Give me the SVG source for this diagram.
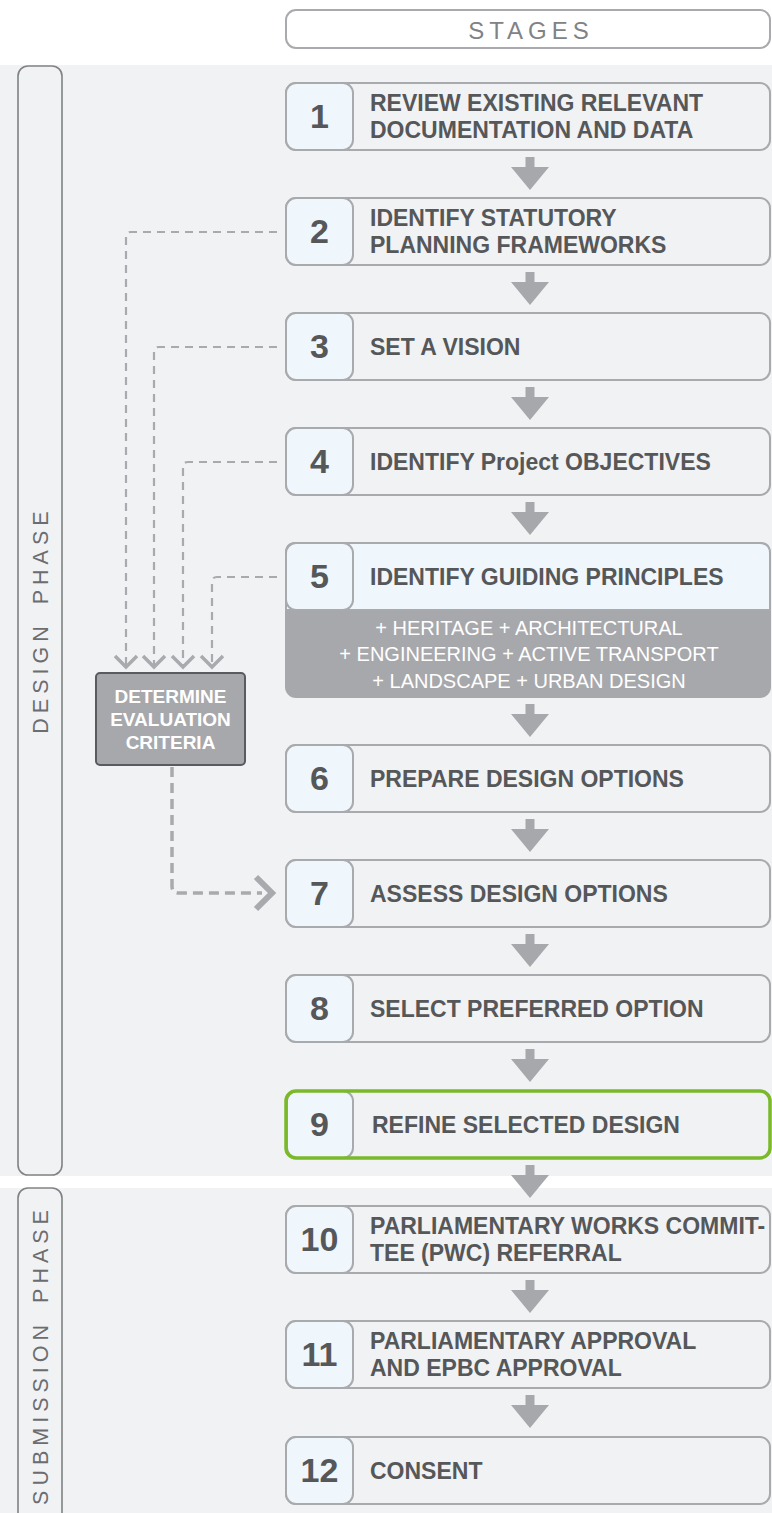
<svg xmlns="http://www.w3.org/2000/svg" width="772" height="1513" viewBox="0 0 772 1513">
  <style>
    .bg { fill: #f1f2f4; }
    .phase { fill: #f1f2f4; stroke: #808284; stroke-width: 1.6; }
    .phase-t { font-family: "Liberation Sans", Arial, sans-serif; font-size: 21.5px; letter-spacing: 5px; fill: #6b6d70; text-anchor: middle; }
    .box { fill: #f1f2f4; stroke: #a9aaad; stroke-width: 2; }
    .num { fill: #eff6fc; stroke: #a9aaad; stroke-width: 2; }
    .num-t { font-family: "Liberation Sans", Arial, sans-serif; font-weight: bold; font-size: 34px; fill: #555759; text-anchor: middle; }
    .lbl { font-family: "Liberation Sans", Arial, sans-serif; font-weight: bold; font-size: 23px; fill: #555759; }
    .flow { fill: #a7a8ac; }
    .dash { fill: none; stroke: #a9aaad; stroke-width: 2.2; stroke-dasharray: 8 6; }
    .chev { fill: none; stroke: #a9aaad; stroke-width: 3.5; }
    .sub { font-family: "Liberation Sans", Arial, sans-serif; font-size: 20px; fill: #ffffff; text-anchor: middle; }
    .crit { font-family: "Liberation Sans", Arial, sans-serif; font-weight: bold; font-size: 19px; fill: #ffffff; text-anchor: middle; }
  </style>

  <!-- phase backgrounds -->
  <rect class="bg" x="0" y="65" width="772" height="1111"/>
  <rect class="bg" x="0" y="1188" width="772" height="325"/>

  <!-- stages header -->
  <g id="stages-header">
    <rect x="286" y="10" width="484" height="38" rx="10" fill="#ffffff" stroke="#a9aaad" stroke-width="2"/>
    <text x="531" y="38.5" font-family="Liberation Sans, Arial, sans-serif" font-size="24" letter-spacing="5" fill="#808285" text-anchor="middle">STAGES</text>
  </g>

  <!-- phase labels -->
  <g id="design-phase">
    <rect class="phase" x="18" y="66" width="44" height="1109" rx="10"/>
    <text class="phase-t" transform="translate(48,620) rotate(-90)">DESIGN<tspan dx="6"> PHASE</tspan></text>
  </g>
  <g id="submission-phase">
    <rect class="phase" x="18" y="1188" width="44" height="340" rx="10"/>
    <text class="phase-t" transform="translate(48,1355) rotate(-90)">SUBMISSION<tspan dx="6"> PHASE</tspan></text>
  </g>

  <!-- stage nodes -->
  <g id="stage-1">
    <rect class="box" x="286" y="83" width="484" height="67" rx="10"/>
    <rect class="num" x="286" y="83" width="67" height="67" rx="10"/>
    <text class="num-t" x="319.5" y="128">1</text>
    <text class="lbl" x="370" y="111">REVIEW EXISTING RELEVANT</text>
    <text class="lbl" x="370" y="138">DOCUMENTATION AND DATA</text>
  </g>
  <g id="stage-2">
    <rect class="box" x="286" y="198" width="484" height="67" rx="10"/>
    <rect class="num" x="286" y="198" width="67" height="67" rx="10"/>
    <text class="num-t" x="319.5" y="243">2</text>
    <text class="lbl" x="370" y="226">IDENTIFY STATUTORY</text>
    <text class="lbl" x="370" y="253">PLANNING FRAMEWORKS</text>
  </g>
  <g id="stage-3">
    <rect class="box" x="286" y="313" width="484" height="67" rx="10"/>
    <rect class="num" x="286" y="313" width="67" height="67" rx="10"/>
    <text class="num-t" x="319.5" y="358">3</text>
    <text class="lbl" x="370" y="355">SET A VISION</text>
  </g>
  <g id="stage-4">
    <rect class="box" x="286" y="428" width="484" height="67" rx="10"/>
    <rect class="num" x="286" y="428" width="67" height="67" rx="10"/>
    <text class="num-t" x="319.5" y="473">4</text>
    <text class="lbl" x="370" y="470">IDENTIFY Project OBJECTIVES</text>
  </g>
  <g id="stage-5">
    <rect x="286" y="543" width="484" height="154" rx="10" fill="#a7a8ac" stroke="#a7a8ac" stroke-width="2"/>
    <path d="M286,610 V553 Q286,543 296,543 H760 Q770,543 770,553 V610 Z" fill="#eff6fc" stroke="#a9aaad" stroke-width="2"/>
    <rect class="num" x="286" y="543" width="67" height="67" rx="10"/>
    <text class="num-t" x="319.5" y="588">5</text>
    <text class="lbl" x="370" y="585">IDENTIFY GUIDING PRINCIPLES</text>
    <text class="sub" x="529" y="635">+ HERITAGE + ARCHITECTURAL</text>
    <text class="sub" x="529" y="661">+ ENGINEERING + ACTIVE TRANSPORT</text>
    <text class="sub" x="529" y="688">+ LANDSCAPE + URBAN DESIGN</text>
  </g>
  <g id="stage-6">
    <rect class="box" x="286" y="745" width="484" height="67" rx="10"/>
    <rect class="num" x="286" y="745" width="67" height="67" rx="10"/>
    <text class="num-t" x="319.5" y="790">6</text>
    <text class="lbl" x="370" y="787">PREPARE DESIGN OPTIONS</text>
  </g>
  <g id="stage-7">
    <rect class="box" x="286" y="860" width="484" height="67" rx="10"/>
    <rect class="num" x="286" y="860" width="67" height="67" rx="10"/>
    <text class="num-t" x="319.5" y="905">7</text>
    <text class="lbl" x="370" y="902">ASSESS DESIGN OPTIONS</text>
  </g>
  <g id="stage-8">
    <rect class="box" x="286" y="975" width="484" height="67" rx="10"/>
    <rect class="num" x="286" y="975" width="67" height="67" rx="10"/>
    <text class="num-t" x="319.5" y="1020">8</text>
    <text class="lbl" x="370" y="1017">SELECT PREFERRED OPTION</text>
  </g>
  <g id="stage-9">
    <rect class="num" x="287" y="1091" width="66" height="67" rx="10"/>
    <rect x="286" y="1091" width="484" height="67" rx="10" fill="none" stroke="#7ab929" stroke-width="3.5"/>
    <text class="num-t" x="319.5" y="1136">9</text>
    <text class="lbl" x="372" y="1133">REFINE SELECTED DESIGN</text>
  </g>
  <g id="stage-10">
    <rect class="box" x="286" y="1206" width="484" height="67" rx="10"/>
    <rect class="num" x="286" y="1206" width="67" height="67" rx="10"/>
    <text class="num-t" x="319.5" y="1251">10</text>
    <text class="lbl" x="370" y="1234">PARLIAMENTARY WORKS COMMIT-</text>
    <text class="lbl" x="370" y="1261">TEE (PWC) REFERRAL</text>
  </g>
  <g id="stage-11">
    <rect class="box" x="286" y="1321" width="484" height="67" rx="10"/>
    <rect class="num" x="286" y="1321" width="67" height="67" rx="10"/>
    <text class="num-t" x="319.5" y="1366">11</text>
    <text class="lbl" x="370" y="1349">PARLIAMENTARY APPROVAL</text>
    <text class="lbl" x="370" y="1376">AND EPBC APPROVAL</text>
  </g>
  <g id="stage-12">
    <rect class="box" x="286" y="1437" width="484" height="67" rx="10"/>
    <rect class="num" x="286" y="1437" width="67" height="67" rx="10"/>
    <text class="num-t" x="319.5" y="1482">12</text>
    <text class="lbl" x="370" y="1479">CONSENT</text>
  </g>

  <!-- evaluation criteria node -->
  <g id="evaluation-criteria">
    <rect x="96" y="673" width="149" height="92" rx="4" fill="#a7a8ac" stroke="#5a5b5e" stroke-width="2"/>
    <text class="crit" x="170.5" y="703">DETERMINE</text>
    <text class="crit" x="170.5" y="726">EVALUATION</text>
    <text class="crit" x="170.5" y="749">CRITERIA</text>
  </g>

  <!-- connectors -->
  <g id="connectors">
    <!-- stage to stage flow arrows -->
    <g class="flow">
      <rect x="525.5" y="157" width="9" height="11"/><polygon points="511,167 549,167 530,190"/>
      <rect x="525.5" y="272" width="9" height="11"/><polygon points="511,282 549,282 530,305"/>
      <rect x="525.5" y="387" width="9" height="11"/><polygon points="511,397 549,397 530,420"/>
      <rect x="525.5" y="502" width="9" height="11"/><polygon points="511,512 549,512 530,535"/>
      <rect x="525.5" y="704" width="9" height="11"/><polygon points="511,714 549,714 530,737"/>
      <rect x="525.5" y="819" width="9" height="11"/><polygon points="511,829 549,829 530,852"/>
      <rect x="525.5" y="934" width="9" height="11"/><polygon points="511,944 549,944 530,967"/>
      <rect x="525.5" y="1049" width="9" height="11"/><polygon points="511,1059 549,1059 530,1082"/>
      <rect x="525.5" y="1165" width="9" height="11"/><polygon points="511,1175 549,1175 530,1198"/>
      <rect x="525.5" y="1280" width="9" height="11"/><polygon points="511,1290 549,1290 530,1313"/>
      <rect x="525.5" y="1395" width="9" height="11"/><polygon points="511,1405 549,1405 530,1428"/>
    </g>
    <!-- dashed feeds into evaluation criteria -->
    <path class="dash" d="M277,232 H131 Q126,232 126,237 V666"/>
    <path class="dash" d="M277,347 H159 Q154,347 154,352 V666"/>
    <path class="dash" d="M277,462 H188 Q183,462 183,467 V666"/>
    <path class="dash" d="M277,577 H217 Q212,577 212,582 V666"/>
    <polyline class="chev" points="115,656 126,667 137,656"/>
    <polyline class="chev" points="143,656 154,667 165,656"/>
    <polyline class="chev" points="172,656 183,667 194,656"/>
    <polyline class="chev" points="201,656 212,667 223,656"/>
    <!-- evaluation criteria to stage 7 -->
    <path d="M172,767 V886 Q172,893 179,893 H262" fill="none" stroke="#a9aaad" stroke-width="3.5" stroke-dasharray="10 6"/>
    <polyline points="256,877 272,893 256,909" fill="none" stroke="#a9aaad" stroke-width="6"/>
  </g>
</svg>
